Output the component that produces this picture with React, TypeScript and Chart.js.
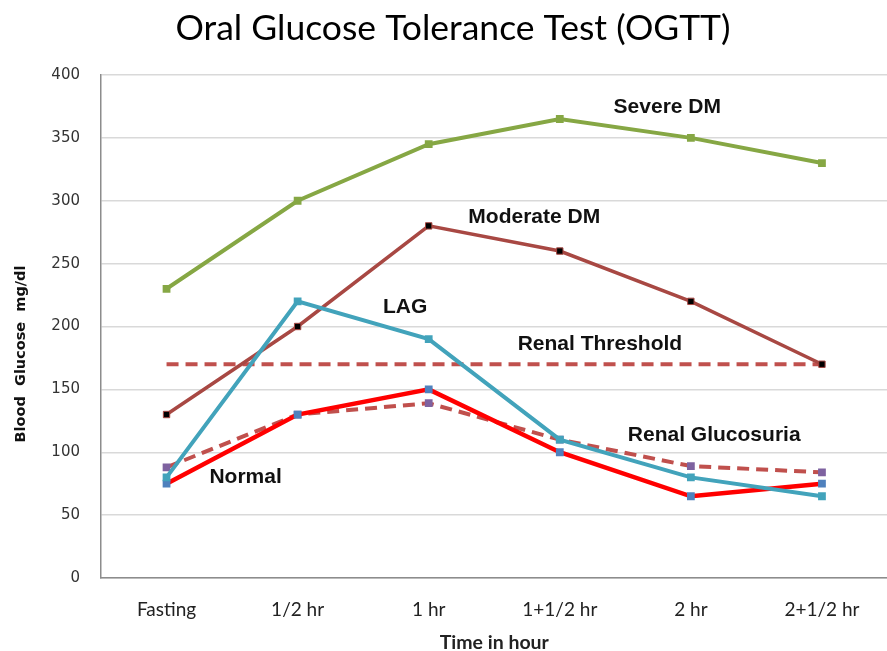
import React, { useEffect, useRef } from "react";
import { Chart, registerables } from "chart.js";

Chart.register(...registerables);

const categories = ["Fasting", "1/2 hr", "1 hr", "1+1/2 hr", "2 hr", "2+1/2 hr"];
const severeDM = [230, 300, 345, 365, 350, 330];
const moderateDM = [130, 200, 280, 260, 220, 170];
const lag = [80, 220, 190, 110, 80, 65];
const normal = [75, 130, 150, 100, 65, 75];
const renalGlucosuria = [88, 130, 139, 110, 89, 84];
const renalThreshold = [170, 170, 170, 170, 170, 170];
const yMin = 0;
const yMax = 400;
const yStep = 50;

const chartTitle = "Oral Glucose Tolerance Test (OGTT)";
const yTitle = "Blood  Glucose  mg/dl";
const xTitle = "Time in hour";

// label anchor positions in data units (category index, value)
const seriesLabels = [
  { text: "Severe DM", x: 3.82, y: 374 },
  { text: "Moderate DM", x: 2.805, y: 287 },
  { text: "LAG", x: 1.82, y: 215.5 },
  { text: "Renal Threshold", x: 3.306, y: 186 },
  { text: "Renal Glucosuria", x: 4.178, y: 113.5 },
  { text: "Normal", x: 0.603, y: 80.5 },
];

const labelPlugin = {
  id: "labelPlugin",
  afterDraw(chart: any) {
    const { ctx, scales, chartArea } = chart;
    const xs = scales.x;
    const ys = scales.y;
    ctx.save();
    // series labels
    ctx.fillStyle = "#111111";
    ctx.font = "bold 21px 'Liberation Sans', Arial, sans-serif";
    ctx.textAlign = "center";
    ctx.textBaseline = "middle";
    for (const l of seriesLabels) {
      ctx.fillText(l.text, xs.getPixelForValue(l.x), ys.getPixelForValue(l.y));
    }
    // chart title
    ctx.font = "35.5px Lato, 'Open Sans', sans-serif";
    ctx.fillStyle = "#000000";
    ctx.fillText(chartTitle, 453, 29);
    // x title
    ctx.font = "bold 19.5px Lato, 'Open Sans', sans-serif";
    ctx.fillStyle = "#222222";
    ctx.fillText(xTitle, (chartArea.left + chartArea.right) / 2, 643);
    // y title
    ctx.translate(21, 354);
    ctx.rotate(-Math.PI / 2);
    ctx.font = "bold 14.5px 'DejaVu Sans', Verdana, sans-serif";
    ctx.fillStyle = "#111111";
    ctx.fillText(yTitle, 0, 0);
    ctx.restore();
  },
};

export default function App() {
  const ref = useRef<HTMLCanvasElement | null>(null);
  useEffect(() => {
    if (!ref.current) return;
    const chart = new Chart(ref.current, {
      type: "line",
      data: {
        labels: categories,
        datasets: [
          {
            label: "Normal",
            data: normal,
            borderColor: "#FF0000",
            borderWidth: 4.5,
            pointStyle: "rect",
            pointRadius: 5.5,
            pointBackgroundColor: "#4F81BD",
            pointBorderColor: "#4F81BD",
            pointBorderWidth: 0,
            tension: 0,
            order: 2,
          },
          {
            label: "LAG",
            data: lag,
            borderColor: "#42A3BB",
            borderWidth: 4,
            pointStyle: "rect",
            pointRadius: 5.5,
            pointBackgroundColor: "#42A3BB",
            pointBorderColor: "#42A3BB",
            pointBorderWidth: 0,
            tension: 0,
            order: 1,
          },
          {
            label: "Renal Glucosuria",
            data: renalGlucosuria,
            borderColor: "#C0504D",
            borderWidth: 4,
            borderDash: [12, 7],
            pointStyle: "rect",
            pointRadius: 5.5,
            pointBackgroundColor: "#7E62A0",
            pointBorderColor: "#7E62A0",
            pointBorderWidth: 0,
            tension: 0,
            order: 3,
          },
          {
            label: "Renal Threshold",
            data: renalThreshold,
            borderColor: "#C0504D",
            borderWidth: 4,
            borderDash: [12, 7],
            pointRadius: 0,
            tension: 0,
            order: 5,
          },
          {
            label: "Moderate DM",
            data: moderateDM,
            borderColor: "#A84843",
            borderWidth: 3.5,
            pointStyle: "rect",
            pointRadius: 4.5,
            pointBackgroundColor: "#000000",
            pointBorderColor: "#A84843",
            pointBorderWidth: 1,
            tension: 0,
            order: 4,
          },
          {
            label: "Severe DM",
            data: severeDM,
            borderColor: "#86A744",
            borderWidth: 4,
            pointStyle: "rect",
            pointRadius: 5.5,
            pointBackgroundColor: "#86A744",
            pointBorderColor: "#86A744",
            pointBorderWidth: 0,
            tension: 0,
            order: 6,
          },
        ],
      },
      options: {
        responsive: false,
        animation: false,
        devicePixelRatio: 1,
        layout: { padding: { top: 75, left: 0, right: 0, bottom: 0 } },
        plugins: {
          legend: { display: false },
          title: { display: false },
          tooltip: { enabled: false },
        },
        scales: {
          x: {
            type: "category",
            offset: true,
            grid: { display: false, drawTicks: false },
            border: { display: true, color: "#8C8C8C", width: 1.5 },
            ticks: {
              color: "#222222",
              font: { family: "Lato, 'Open Sans', sans-serif", size: 19 },
              padding: 20,
              maxRotation: 0,
              autoSkip: false,
            },
            afterFit(scale: any) {
              scale.height = 73;
            },
          },
          y: {
            min: yMin,
            max: yMax,
            grid: { color: "#D9D9D9", lineWidth: 1.5, drawTicks: false },
            border: { display: true, color: "#8C8C8C", width: 1.5 },
            ticks: {
              stepSize: yStep,
              color: "#333333",
              font: { family: "'DejaVu Sans', Verdana, sans-serif", size: 15 },
              padding: 21,
            },
            afterFit(scale: any) {
              scale.width = 101;
            },
          },
        },
      },
      plugins: [labelPlugin],
    });
    return () => chart.destroy();
  }, []);
  return (
    <div
      style={{
        position: "absolute",
        left: 0,
        top: 0,
        width: 887,
        height: 651,
        overflow: "hidden",
        background: "#ffffff",
      }}
    >
      <canvas ref={ref} width={893} height={651} style={{ display: "block" }} />
    </div>
  );
}
